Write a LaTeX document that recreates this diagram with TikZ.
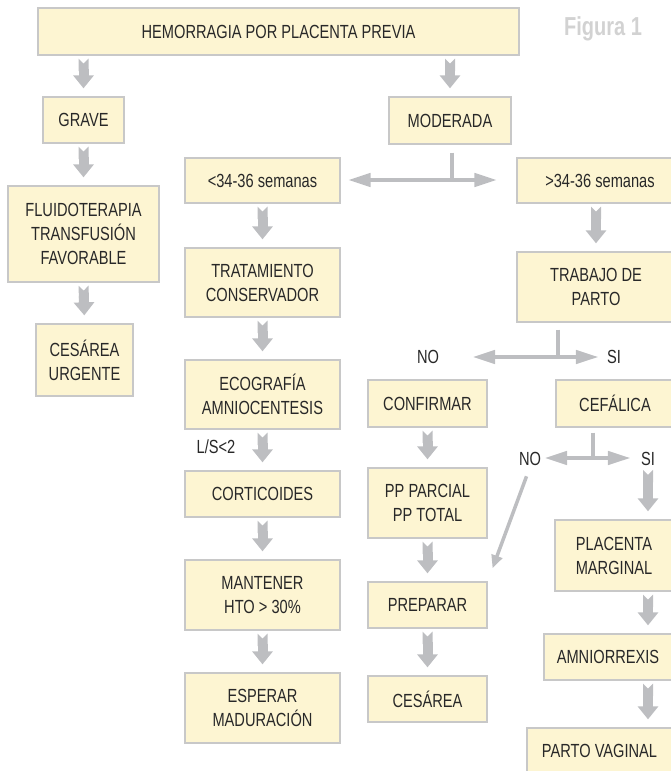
\documentclass[tikz,border=0pt]{standalone}
\usepackage{fontspec}
\setmainfont{Liberation Sans}[FakeStretch=0.77]
\usetikzlibrary{arrows.meta}
\definecolor{boxfill}{RGB}{253,245,210}
\definecolor{boxline}{RGB}{200,200,200}
\definecolor{arrowgray}{RGB}{189,190,193}
\definecolor{txt}{RGB}{40,40,40}
\definecolor{figgray}{RGB}{210,210,210}
\newcommand\bx[6]{\node[box, minimum width={#3-#2}, minimum height={#5-#4}] (#1) at ({(#2+#3)/2},{(#4+#5)/2}) {#6};}
\begin{document}
\begin{tikzpicture}[x=1pt,y=-1pt,
  box/.style={draw=boxline, fill=boxfill, line width=1.3pt, text=txt, align=center, inner sep=0pt, font=\fontsize{19}{24}\selectfont},
  lbl/.style={text=txt, inner sep=1pt, font=\fontsize{19}{24}\selectfont},
  fat/.style={draw=arrowgray, line width=10pt, {Triangle Cap[reversed]}-{Triangle[width=20pt,length=13pt]}, shorten <=3pt, shorten >=8pt},
  split/.style={draw=arrowgray, line width=4.5pt, -{Triangle[width=13pt,length=23pt]}},
  stem/.style={draw=arrowgray, line width=4.5pt, shorten >=-2pt},
  diag/.style={draw=arrowgray, line width=3.5pt, -{Triangle[width=11pt,length=13pt]}}]
\useasboundingbox (0,0) rectangle (671,771);
\clip (0,0) rectangle (671,771);

\bx{top}{38}{519}{8}{55}{HEMORRAGIA POR PLACENTA PREVIA}
\node[font=\bfseries\fontsize{26}{30}\selectfont, text=figgray, inner sep=0pt] (fig) at (603,29) {Figura 1};
\bx{grave}{43}{124}{97}{143}{GRAVE}
\bx{mod}{389}{511}{97}{144}{MODERADA}
\bx{fluid}{8}{159}{186}{282}{FLUIDOTERAPIA\\TRANSFUSIÓN\\FAVORABLE}
\bx{cesu}{36}{133}{324}{396}{CESÁREA\\URGENTE}
\bx{lt}{185}{340}{158}{203}{<34-36 semanas}
\bx{trat}{185}{340}{248}{317}{TRATAMIENTO\\CONSERVADOR}
\bx{eco}{185}{340}{360}{429}{ECOGRAFÍA\\AMNIOCENTESIS}
\bx{cort}{185}{340}{471}{517}{CORTICOIDES}
\bx{mant}{185}{340}{560}{630}{MANTENER\\HTO > 30\%}
\bx{esp}{185}{340}{673}{743}{ESPERAR\\MADURACIÓN}
\bx{gt}{517}{683}{158}{203}{>34-36 semanas}
\bx{trab}{517}{675}{252}{322}{TRABAJO DE\\PARTO}
\bx{cef}{556}{674}{380}{427}{CEFÁLICA}
\bx{conf}{368}{487}{380}{427}{CONFIRMAR}
\bx{ppp}{368}{487}{468}{538}{PP PARCIAL\\PP TOTAL}
\bx{prep}{368}{487}{582}{628}{PREPARAR}
\bx{ces}{368}{487}{676}{722}{CESÁREA}
\bx{plac}{555}{673}{520}{591}{PLACENTA\\MARGINAL}
\bx{amn}{544}{672}{634}{680}{AMNIORREXIS}
\bx{parto}{527}{672}{728}{773}{PARTO VAGINAL}

\node[lbl] (ls) at (216,447) {L/S<2};
\node[lbl] (no1) at (428,357) {NO};
\node[lbl] (si1) at (614,357) {SI};
\node[lbl] (no2) at (530,459) {NO};
\node[lbl] (si2) at (648,459) {SI};

% fat arrows
\draw[fat] (top.south -| grave.north) -- (grave.north);
\draw[fat] (top.south -| mod.north) -- (mod.north);
\draw[fat] (grave.south) -- (fluid.north);
\draw[fat] (fluid.south) -- (cesu.north);
\draw[fat] (lt.south) -- (trat.north);
\draw[fat] (trat.south) -- (eco.north);
\draw[fat] (eco.south) -- (cort.north);
\draw[fat] (cort.south) -- (mant.north);
\draw[fat] (mant.south) -- (esp.north);
\draw[fat] (trab.north |- gt.south) -- (trab.north);
\draw[fat] (conf.south) -- (ppp.north);
\draw[fat] (ppp.south) -- (prep.north);
\draw[fat] (prep.south) -- (ces.north);
\draw[fat] (si2.south) -- (si2 |- plac.north);
\draw[fat] (plac.south -| si2) -- (amn.north -| si2);
\draw[fat] (amn.south -| si2) -- (parto.north -| si2);

% split 1
\coordinate (j1) at (452,180);
\draw[stem, shorten <=8pt] (j1 |- mod.south) -- (j1);
\draw[split, shorten >=7pt] (j1) -- (j1 -| lt.east);
\draw[split, shorten >=19pt] (j1) -- (j1 -| gt.west);
% split 2
\coordinate (j2) at (558,357);
\draw[stem, shorten <=7pt] (j2 |- trab.south) -- (j2);
\draw[split, shorten >=32pt] (j2) -- (j2 -| no1.east);
\draw[split, shorten >=7pt] (j2) -- (j2 -| si1.west);
% split 3
\coordinate (j3) at (593,458);
\draw[stem, shorten <=5pt] (j3 |- cef.south) -- (j3);
\draw[split, shorten >=2pt] (j3) -- (j3 -| no2.east);
\draw[split, shorten >=9pt] (j3) -- (j3 -| si2.west);
% diagonal
\draw[diag, shorten <=10pt, shorten >=14pt] (no2.south) -- (prep.north east);
\end{tikzpicture}
\end{document}
